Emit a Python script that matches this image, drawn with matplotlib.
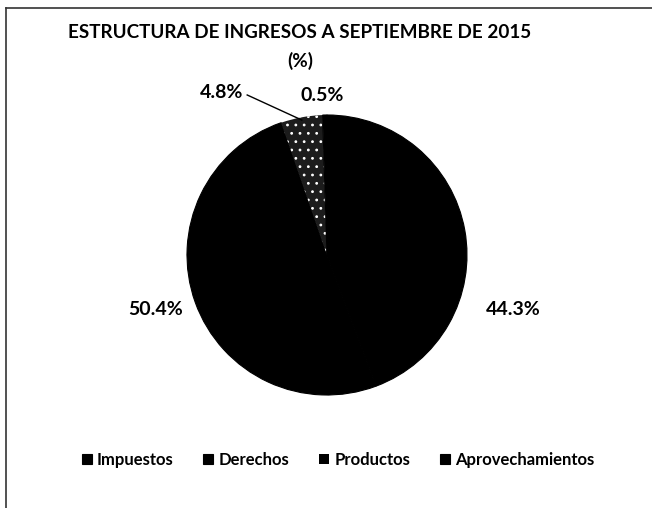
import matplotlib.pyplot as plt
from matplotlib.lines import Line2D

plt.rcParams['font.family'] = ['Lato', 'DejaVu Sans']
plt.rcParams['hatch.linewidth'] = 0.8

# Datos
categorias = ['Impuestos', 'Derechos', 'Productos', 'Aprovechamientos']
valores = [44.3, 50.4, 4.8, 0.5]
etiquetas = ['44.3%', '50.4%', '4.8%', '0.5%']
colores = ['#000000', '#000000', '#1c1c1c', '#000000']

fig = plt.figure(figsize=(6.52, 5.08), dpi=100)
W, H = 652, 508

# marco (solo arriba e izquierda visibles)
fig.add_artist(Line2D([6 / W, 6 / W], [0, 1 - 8 / H], color='#333333', lw=1.2))
fig.add_artist(Line2D([6 / W, 1], [1 - 8 / H, 1 - 8 / H], color='#333333', lw=1.2))

# pastel
cx, cy, r = 327, 255, 140
ax = fig.add_axes([(cx - r) / W, 1 - (cy + r) / H, 2 * r / W, 2 * r / H])
wedges, _ = ax.pie(valores, colors=colores, startangle=90, counterclock=False,
                   wedgeprops=dict(linewidth=0.8, edgecolor='black'))
wedges[2].set_hatch('..')
wedges[2].set_edgecolor('white')
wedges[2].set_linewidth(0)
ax.set_xlim(-1, 1)
ax.set_ylim(-1, 1)
ax.set_aspect('equal')
ax.axis('off')

# etiquetas de datos
pos = [(1.33, -0.39), (-1.225, -0.39), (-0.75, 1.164), (-0.036, 1.136)]
for (x, y), t in zip(pos, etiquetas):
    ax.text(x, y, t, ha='center', va='center', fontsize=14, fontweight='bold',
            clip_on=False)
ax.plot([-0.57, -0.18], [1.143, 0.964], color='black', lw=1, clip_on=False)

# titulo
fig.text(300 / W, 1 - 32 / H, 'ESTRUCTURA DE INGRESOS A SEPTIEMBRE DE 2015',
         ha='center', va='center', fontsize=13.6, fontweight='bold')
fig.text(300 / W, 1 - 61 / H, '(%)', ha='center', va='center',
         fontsize=13.6, fontweight='bold')

# leyenda
leg = fig.legend(wedges, categorias, loc='center', bbox_to_anchor=(338 / W, 1 - 460 / H),
                 ncol=4, frameon=False, handlelength=0.6, handleheight=0.6,
                 handletextpad=0.3, columnspacing=1.8, prop=dict(size=12, weight='bold'))
h = leg.legend_handles[2]
h.set_hatch(None)
h.set_facecolor('black')
h.set_edgecolor('black')

fig.savefig('out.png', dpi=100)
